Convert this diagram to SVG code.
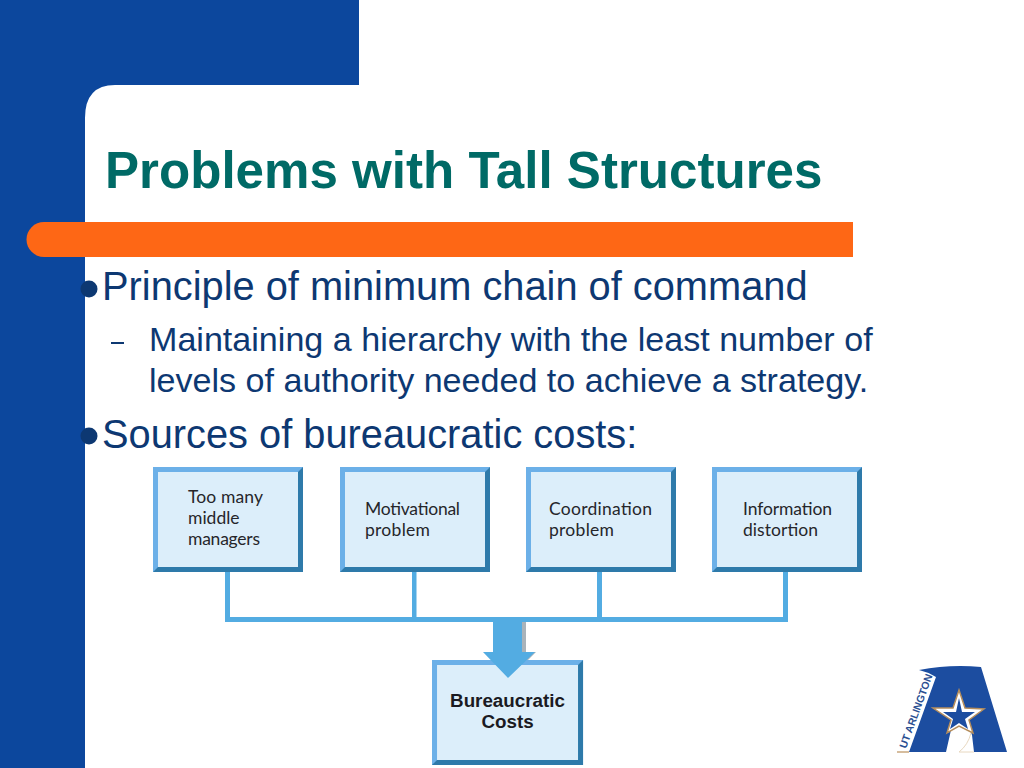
<svg xmlns="http://www.w3.org/2000/svg" width="1024" height="768" viewBox="0 0 1024 768">
<style>
text{font-family:"Liberation Sans",Arial,sans-serif}
.b{fill:#0d3872;font-size:39.800px}
.s{fill:#0d3872;font-size:34.100px}
.l{fill:#26262a;font-size:17.500px;font-family:"Lato","Liberation Sans",sans-serif}
.m{font-weight:700;font-size:18.800px;fill:#1a1a22;text-anchor:middle}
.top{fill:#6cb0e8}.bot{fill:#2e7aaa}.in{fill:#dceefa}
.c{fill:#53ace2}
</style>
<defs>
<g id="box">
<rect width="150" height="105" class="top"/>
<polygon points="150,0 150,105 0,105 5,100 145,100 145,5" class="bot"/>
<rect x="5" y="5" width="140" height="95" class="in"/>
</g>
</defs>
<rect width="1024" height="768" fill="#fff"/>
<g id="background">
<path d="M0 0H359V85H115Q85 85 85 118V768H0Z" fill="#0c479d"/>
<path d="M44 222H853V257H44A17.500 17.500 0 0 1 44 222Z" fill="#fe6715"/>
</g>
<g id="title"><text x="105" y="188" font-size="51.100" font-weight="700" fill="#006a66">Problems with Tall Structures</text></g>
<g id="bullets">
<circle cx="89" cy="289" r="8.500" fill="#0d3872"/>
<text x="102" y="300" class="b">Principle of minimum chain of command</text>
<rect x="111" y="342" width="13" height="2" fill="#0d3872"/>
<text x="149" y="351" class="s">Maintaining a hierarchy with the least number of</text>
<text x="149" y="392" class="s">levels of authority needed to achieve a strategy.</text>
<circle cx="89" cy="436" r="8.500" fill="#0d3872"/>
<text x="102" y="448" class="b">Sources of bureaucratic costs:</text>
</g>
<g id="connectors">
<path d="M225 572H230V617H412V572H416.500V617H597V572H602V617H783V572H788V622H225Z" class="c"/>
<polygon points="493,622 526,622 526,652 536,652 510,678 493,660" fill="#a9b3ba"/>
</g>
<g id="node-too-many"><use href="#box" x="153" y="467"/>
<text class="l" x="188" y="503" textLength="75">Too many</text><text class="l" x="188" y="524">middle</text><text class="l" x="188" y="545" textLength="72">managers</text></g>
<g id="node-motivational"><use href="#box" x="340" y="467"/>
<text class="l" x="365" y="515" textLength="95">Motivational</text><text class="l" x="365" y="536" textLength="65">problem</text></g>
<g id="node-coordination"><use href="#box" x="526" y="467"/>
<text class="l" x="549" y="515" textLength="103">Coordination</text><text class="l" x="549" y="536" textLength="65">problem</text></g>
<g id="node-information"><use href="#box" x="712" y="467"/>
<text class="l" x="743" y="515" textLength="89">Information</text><text class="l" x="743" y="536" textLength="75">distortion</text></g>
<g id="node-costs"><use href="#box" transform="translate(432 660) scale(1.007 1)"/>
<text class="m" x="507.500" y="707">Bureaucratic</text>
<text class="m" x="507.500" y="728">Costs</text></g>
<g id="arrow"><polygon points="493,622 522,622 522,652 535,652 508,678 483,652 493,652" class="c"/></g>
<g id="logo">
<path d="M919 670Q950 664 981 667L1007 752H974L972 735Q968 724 959 716L951 730L946 752H909L936 677Q928 672 919 670Z" fill="#1c4da0"/>
<path d="M897 752H909" fill="none" stroke="#c9a77e" stroke-width="1.500"/>
<path d="M974 752H959Q968 745 971 733" fill="none" stroke="#e8d8c0" stroke-width="1"/>
<polygon points="959,690 965,708 984,709 969,720 973,733 959,726 947,733 951,720 933,708 953,708" fill="#fff" stroke="#b58d5c" stroke-width="1.500"/>
<polygon points="959,698 962,712 975,712 965,719 968,729 959,723 950,729 953,719 943,712 956,712" fill="#1c4da0"/>
<text transform="translate(906 749) rotate(-70)" font-size="10.500" font-weight="700" fill="#2b4f92" textLength="78">UT ARLINGTON</text>
</g>
</svg>
